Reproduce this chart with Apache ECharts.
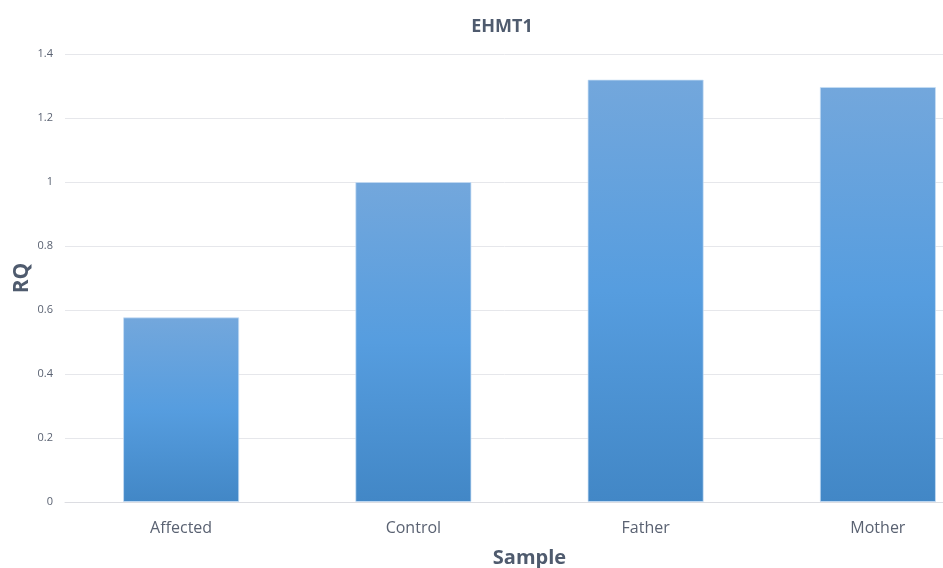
<!DOCTYPE html>
<html>
<head>
<meta charset="utf-8">
<script src="https://cdn.jsdelivr.net/npm/echarts@6/dist/echarts.min.js"></script>
<style>
  html, body { margin: 0; padding: 0; background: #fff; }
  #chart { width: 943px; height: 568px; }
</style>
</head>
<body>
<div id="chart"></div>
<script>
const samples = ['Affected', 'Control', 'Father', 'Mother']
const rqValues = [0.577, 1.0, 1.32, 1.297]
const yTicks = [0, 0.2, 0.4, 0.6, 0.8, 1, 1.2, 1.4]

const chart = echarts.init(document.getElementById('chart'), null, { renderer: 'canvas' })

const barFill = new echarts.graphic.LinearGradient(0, 0, 0, 1, [
  { offset: 0, color: '#73a7dc' },
  { offset: 0.5, color: '#569ddf' },
  { offset: 1, color: '#4287c6' },
])

const option = {
  backgroundColor: '#fff',
  animation: false,
  title: {
    text: 'EHMT1',
    left: 497,
    top: 13,
    textAlign: 'center',
    textStyle: { color: '#4f5b6e', fontSize: 18, fontWeight: 'bold', fontFamily: 'Open Sans' },
  },
  grid: { left: 65, right: -51, top: 54, bottom: 66, outerBoundsMode: 'none' },
  xAxis: {
    type: 'category',
    data: samples,
    name: 'Sample',
    nameLocation: 'middle',
    nameGap: 46,
    nameTextStyle: { color: '#4f5b6e', fontSize: 20, fontWeight: 'bold', fontFamily: 'Open Sans' },
    axisLine: { lineStyle: { color: '#dcdde2', width: 1 } },
    axisTick: { show: false },
    axisLabel: { color: '#5a6272', fontSize: 16, margin: 18, fontFamily: 'Open Sans' },
  },
  yAxis: {
    type: 'value',
    min: 0,
    max: 1.4,
    interval: 0.2,
    name: 'RQ',
    nameLocation: 'middle',
    nameGap: 32,
    nameMoveOverlap: false,
    nameTextStyle: { color: '#4f5b6e', fontSize: 21, fontWeight: 'bold', fontFamily: 'Open Sans' },
    axisLine: { show: false },
    axisTick: { show: false },
    axisLabel: {
      color: '#5a6272', fontSize: 11, margin: 12, fontFamily: 'Open Sans',
      formatter: v => String(yTicks.find(t => Math.abs(t - v) < 1e-6) ?? v),
    },
    splitLine: { lineStyle: { color: '#e6e7eb', width: 1 } },
  },
  series: [{
    type: 'bar',
    data: rqValues,
    barWidth: '50%',
    itemStyle: { color: barFill, borderColor: 'rgba(200,222,245,0.7)', borderWidth: 1 },
  }],
}

chart.setOption(option)
</script>
</body>
</html>
